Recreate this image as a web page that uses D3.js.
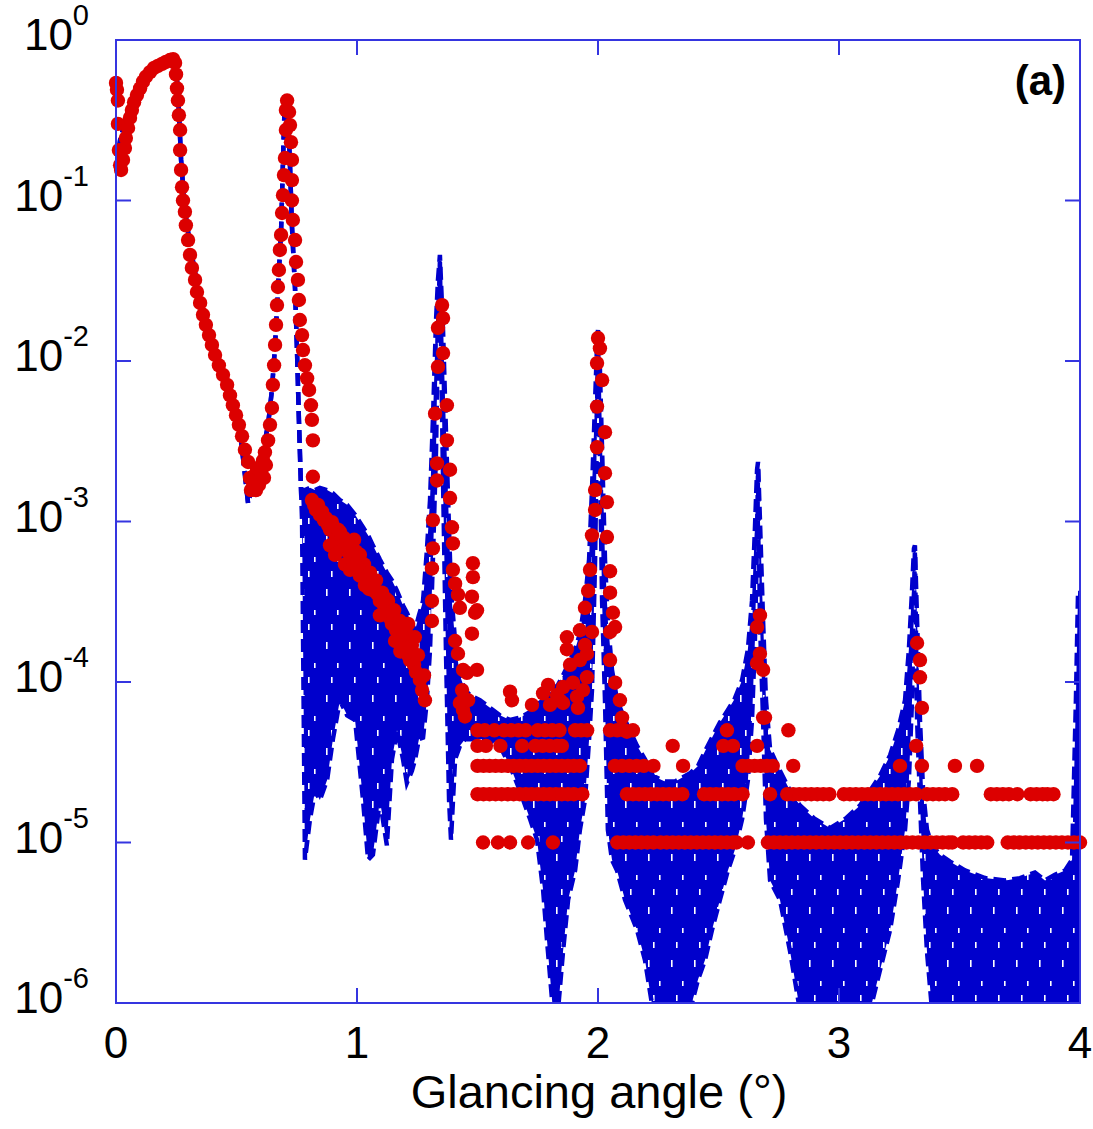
<!DOCTYPE html>
<html><head><meta charset="utf-8">
<script src="https://cdn.jsdelivr.net/npm/d3@7"></script>
<style>body{margin:0;background:#fff} svg text{font-family:"Liberation Sans",Arial,sans-serif;fill:#000}</style>
</head><body><svg id="c" width="1093" height="1129"></svg>
<script>
// ---------- DATA ----------
// simulated reflectivity: single-valued part [angle, R]
const simCurve = [[0,0.155],[0.017,0.238],[0.05,0.366],[0.1,0.524],[0.16,0.67],[0.224,0.75],[0.245,0.73],[0.257,0.49],[0.27,0.179],[0.286,0.087],[0.307,0.053],[0.349,0.024],[0.402,0.0135],[0.444,0.0084],[0.485,0.0049],[0.519,0.0032],[0.548,0.0013],[0.577,0.0019],[0.606,0.0026],[0.631,0.004],[0.647,0.0066],[0.66,0.0125],[0.672,0.028],[0.685,0.065],[0.693,0.179],[0.701,0.454],[0.714,0.34],[0.722,0.166],[0.73,0.07],[0.743,0.028],[0.751,0.0117],[0.759,0.0043],[0.768,0.00155]];
// simulated reflectivity, fast-fringe part: [angle, upper, lower]
const simBand = [[0.772,1.57e-3,1.02e-3],[0.784,1.57e-3,7.8e-6],[0.805,1.62e-3,1.4e-5],[0.826,1.57e-3,2.1e-5],[0.846,1.62e-3,1.84e-5],[0.876,1.57e-3,2.45e-5],[0.900,1.5e-3,4.4e-5],[0.929,1.36e-3,7.7e-5],[0.959,1.27e-3,6.2e-5],[0.992,1.1e-3,5.8e-5],[1.025,9.2e-4,1.84e-5],[1.046,8.2e-4,7.8e-6],[1.066,7.1e-4,8.4e-6],[1.095,5.8e-4,1.84e-5],[1.124,4.8e-4,9.6e-6],[1.145,4.3e-4,3.3e-5],[1.166,3.7e-4,5.0e-5],[1.191,3.0e-4,3.3e-5],[1.207,2.7e-4,2.35e-5],[1.228,2.3e-4,2.8e-5],[1.241,2.1e-4,3.3e-5],[1.257,2.6e-4,4.4e-5],[1.274,3.2e-4,4.5e-5],[1.290,6.6e-4,7.7e-5],[1.303,1.36e-3,1.6e-4],[1.315,4.3e-3,5.8e-4],[1.328,0.018,2.8e-3],[1.336,0.032,0.0156],[1.344,0.0458,0.0414],[1.357,0.0156,1.8e-3],[1.369,3.7e-3,1.6e-4],[1.382,8.9e-4,1.84e-5],[1.390,3.7e-4,1.04e-5],[1.407,1.8e-4,3.3e-5],[1.427,1.1e-4,4.0e-5],[1.448,8.9e-5,4.4e-5],[1.469,8.3e-5,4.4e-5],[1.510,7.7e-5,4.4e-5],[1.552,6.9e-5,4.4e-5],[1.593,6.2e-5,4.0e-5],[1.635,5.8e-5,3.0e-5],[1.676,6.0e-5,2.1e-5],[1.718,6.5e-5,1.4e-5],[1.747,7.2e-5,1.04e-5],[1.772,7.7e-5,5.1e-6],[1.788,8.3e-5,2.5e-6],[1.813,8.9e-5,9e-7],[1.834,9.6e-5,9e-7],[1.855,1.1e-4,2.1e-6],[1.876,1.28e-4,4.4e-6],[1.905,1.6e-4,6.7e-6],[1.925,2.0e-4,1.2e-5],[1.946,3.2e-4,1.84e-5],[1.963,5.8e-4,4.4e-5],[1.975,1.57e-3,8.9e-5],[1.988,5.7e-3,5.8e-4],[1.996,0.0126,4.3e-3],[2.000,0.0156,0.0145],[2.008,8.8e-3,2.4e-3],[2.017,2.8e-3,3.2e-4],[2.029,5.8e-4,7.7e-5],[2.041,2.4e-4,1.2e-5],[2.058,1.19e-4,7.8e-6],[2.079,7.7e-5,6.7e-6],[2.112,5.8e-5,4.4e-6],[2.162,4.0e-5,2.85e-6],[2.195,3.3e-5,1.85e-6],[2.228,2.6e-5,9e-7],[2.278,2.4e-5,9e-7],[2.320,2.4e-5,9e-7],[2.382,2.7e-5,9e-7],[2.415,3.0e-5,1.4e-6],[2.444,3.7e-5,1.85e-6],[2.473,4.5e-5,2.85e-6],[2.506,5.6e-5,4.4e-6],[2.539,6.7e-5,6.7e-6],[2.568,7.9e-5,9.0e-6],[2.598,1.03e-4,1.4e-5],[2.622,1.6e-4,2.45e-5],[2.639,3.2e-4,5.8e-5],[2.651,8.9e-4,1.8e-4],[2.660,2.1e-3,7.7e-4],[2.664,2.35e-3,2.1e-3],[2.672,1.02e-3,2.4e-4],[2.685,2.4e-4,5.8e-5],[2.697,7.7e-5,1.4e-5],[2.714,3.8e-5,5.8e-6],[2.755,2.8e-5,4.4e-6],[2.797,2.1e-5,2.1e-6],[2.838,1.7e-5,9e-7],[2.900,1.4e-5,9e-7],[2.963,1.23e-5,9e-7],[3.025,1.4e-5,9e-7],[3.087,1.7e-5,9e-7],[3.129,2.1e-5,9e-7],[3.170,2.6e-5,1.6e-6],[3.212,3.5e-5,2.85e-6],[3.245,5.0e-5,5.8e-6],[3.274,7.7e-5,1.2e-5],[3.290,1.6e-4,2.45e-5],[3.303,3.7e-4,7.7e-5],[3.311,6.8e-4,3.2e-4],[3.315,7.1e-4,6.6e-4],[3.324,2.4e-4,5.8e-5],[3.336,5.8e-5,1.84e-5],[3.349,2.1e-5,5.8e-6],[3.365,1.2e-5,2.1e-6],[3.386,9.6e-6,9e-7],[3.419,8.4e-6,9e-7],[3.461,7.6e-6,9e-7],[3.523,6.7e-6,9e-7],[3.606,6.0e-6,9e-7],[3.689,5.8e-6,9e-7],[3.751,6.0e-6,9e-7],[3.813,6.5e-6,9e-7],[3.855,5.8e-6,9e-7],[3.896,6.3e-6,9e-7],[3.938,6.7e-6,9e-7],[3.967,7.8e-6,9e-7],[3.983,7.7e-5,9e-7],[3.992,3.7e-4,9e-7],[4.000,3.7e-4,9e-7]];

// measured reflectivity [angle, R]
const expMain = [[0,0.54],[0.004,0.49],[0.008,0.42],[0.008,0.30],[0.012,0.206],[0.017,0.166],[0.021,0.155],[0.029,0.179],[0.037,0.212],[0.041,0.245],[0.05,0.283],[0.058,0.327],[0.066,0.366],[0.075,0.41],[0.087,0.454],[0.1,0.50],[0.112,0.55],[0.124,0.59],[0.141,0.63],[0.158,0.67],[0.174,0.69],[0.191,0.71],[0.207,0.73],[0.224,0.75],[0.237,0.76],[0.245,0.72],[0.249,0.61],[0.253,0.50],[0.257,0.42],[0.261,0.34],[0.266,0.275],[0.266,0.206],[0.27,0.155],[0.274,0.121],[0.278,0.1],[0.286,0.085],[0.29,0.070],[0.299,0.0567],[0.307,0.0458],[0.315,0.038],[0.328,0.032],[0.336,0.0269],[0.349,0.023],[0.361,0.0194],[0.373,0.0168],[0.386,0.0145],[0.398,0.0126],[0.411,0.0109],[0.427,0.0094],[0.444,0.0082],[0.461,0.0071],[0.473,0.0061],[0.485,0.0053],[0.498,0.0046],[0.51,0.0040],[0.523,0.0034],[0.535,0.0028],[0.548,0.00235],[0.556,0.00187],[0.56,0.00157],[0.568,0.00176],[0.577,0.00195],[0.581,0.00157],[0.585,0.00215],[0.593,0.00169],[0.602,0.00203],[0.61,0.0024],[0.614,0.00187],[0.618,0.0027],[0.622,0.00225],[0.631,0.0032],[0.639,0.0040],[0.647,0.0051],[0.651,0.0071],[0.656,0.0094],[0.66,0.0126],[0.664,0.0168],[0.668,0.0223],[0.672,0.0289],[0.676,0.0369],[0.68,0.0492],[0.685,0.061],[0.689,0.0836],[0.693,0.108],[0.697,0.144],[0.701,0.184],[0.705,0.275],[0.705,0.366],[0.71,0.42],[0.718,0.356],[0.722,0.295],[0.726,0.231],[0.73,0.179],[0.73,0.134],[0.73,0.1],[0.734,0.0756],[0.743,0.0567],[0.747,0.0414],[0.755,0.032],[0.759,0.024],[0.763,0.018],[0.772,0.0145],[0.776,0.0117],[0.784,0.0094],[0.793,0.0078],[0.801,0.0066],[0.809,0.0053],[0.813,0.0043],[0.817,0.0032],[0.817,0.0019]];
const expSlope = [[0.813,1.36e-3],[0.822,1.27e-3],[0.830,1.18e-3],[0.838,1.27e-3],[0.846,1.1e-3],[0.855,1.15e-3],[0.863,1.02e-3],[0.871,1.05e-3],[0.880,9.5e-4],[0.888,8.9e-4],[0.896,9.9e-4],[0.905,9.1e-4],[0.913,8.1e-4],[0.921,8.9e-4],[0.929,7.7e-4],[0.938,7.1e-4],[0.946,7.9e-4],[0.954,6.6e-4],[0.963,7.1e-4],[0.971,6.2e-4],[0.979,6.8e-4],[0.988,7.7e-4],[0.996,6.5e-4],[1.004,5.6e-4],[1.012,6.2e-4],[1.021,5.0e-4],[1.029,5.4e-4],[1.037,4.6e-4],[1.046,4.3e-4],[1.054,4.8e-4],[1.062,4.0e-4],[1.071,3.7e-4],[1.079,4.3e-4],[1.087,3.5e-4],[1.095,3.2e-4],[1.104,3.6e-4],[1.112,3.0e-4],[1.120,2.7e-4],[1.129,3.2e-4],[1.137,2.5e-4],[1.145,2.3e-4],[1.154,2.8e-4],[1.162,2.1e-4],[1.170,2.0e-4],[1.178,2.4e-4],[1.187,1.8e-4],[1.195,1.63e-4],[1.203,2.05e-4],[1.212,1.47e-4],[1.220,1.37e-4],[1.228,1.7e-4],[1.237,1.28e-4],[1.245,1.15e-4],[1.253,1.47e-4],[1.261,1.03e-4],[1.270,8.9e-5],[1.278,1.1e-4],[1.282,7.7e-5],[0.888,7.1e-4],[0.909,6.2e-4],[0.950,5.4e-4],[0.971,5.0e-4],[1.012,4.6e-4],[1.033,4.0e-4],[1.095,2.6e-4],[1.158,1.8e-4],[1.212,2.3e-4],[0.93,8.6e-4],[0.975,7.4e-4],[1.0,5.2e-4],[1.05,3.8e-4],[1.12,3.3e-4],[1.18,1.55e-4],[1.24,1.9e-4]];
const expPeaks = [[1.353,0.0223],[1.357,0.0185],[1.336,0.0161],[1.357,0.0112],[1.336,0.0092],[1.373,0.0053],[1.324,0.0047],[1.373,0.0032],[1.332,0.0023],[1.386,0.0021],[1.332,0.0018],[1.386,0.0014],[1.315,1.02e-3],[1.394,9.2e-4],[1.398,7.3e-4],[1.315,6.8e-4],[1.311,5.1e-4],[1.398,5.0e-4],[1.407,4.1e-4],[1.311,3.2e-4],[1.419,3.5e-4],[1.427,2.9e-4],[1.311,2.4e-4],[1.407,1.8e-4],[1.419,1.5e-4],[1.440,1.19e-4],[1.456,1.14e-4],[1.498,1.19e-4],[1.436,8.9e-5],[1.427,7.4e-5],[1.440,6.7e-5],[1.461,7.7e-5],[1.448,6.1e-5],[1.481,5.5e-4],[1.481,4.5e-4],[1.477,3.4e-4],[1.498,2.8e-4],[1.477,2.0e-4],[1.490,2.7e-4],
[1.635,8.7e-5],[1.643,7.7e-5],[1.726,7.2e-5],[1.772,8.5e-5],[1.793,9.6e-5],[1.801,7.2e-5],[1.830,8.3e-5],[1.842,7.7e-5],[1.855,7.4e-5],[1.871,1.9e-4],[1.871,1.6e-4],[1.884,1.28e-4],[1.855,9.3e-5],[1.896,9.9e-5],[1.913,8.1e-5],[1.917,6.9e-5],[1.938,8.9e-5],[1.954,1.07e-4],[1.954,1.5e-4],[1.975,2.05e-4],[1.925,1.37e-4],[1.946,1.7e-4],
[2.0,0.0139],[2.008,0.012],[1.996,0.0097],[2.017,0.0076],[1.996,0.0052],[2.029,0.0036],[1.996,0.0029],[2.029,0.0020],[1.988,0.00157],[2.037,1.32e-3],[1.988,1.18e-3],[1.975,8.2e-4],[2.037,8.0e-4],[1.967,5.0e-4],[2.050,4.9e-4],[1.959,3.7e-4],[2.050,3.6e-4],[1.946,2.9e-4],[2.062,2.7e-4],[1.925,2.1e-4],[2.071,2.2e-4],[2.050,2.05e-4],[2.050,1.37e-4],[2.071,9.9e-5],[2.091,7.7e-5],[2.100,6.0e-5],[2.120,4.9e-5],
[2.672,2.6e-4],[2.660,2.2e-4],[2.672,1.5e-4],[2.660,1.31e-4],[2.685,1.19e-4],[2.685,6.0e-5],[2.693,6.0e-5],
[3.324,1.75e-4],[3.336,1.37e-4],[3.336,1.07e-4],[3.344,6.9e-5]];
// low-count floor levels (quantised counts) and the angles at which they occur
const floorLevels = [1e-5, 2e-5, 3e-5, 4e-5, 5e-5];
const floor1X = [1.523,1.585,1.635,1.71,1.813,2.08,2.105,2.13,2.155,2.18,2.205,2.23,2.26,2.285,2.31,2.335,2.36,2.385,2.41,2.435,2.46,2.485,2.51,2.535,2.56,2.575,2.622,2.705,2.73,2.755,2.78,2.805,2.83,2.855,2.88,2.905,2.93,2.955,2.98,3.005,3.03,3.055,3.08,3.105,3.13,3.155,3.18,3.205,3.23,3.255,3.28,3.305,3.33,3.355,3.38,3.405,3.43,3.455,3.47,3.515,3.54,3.565,3.59,3.615,3.70,3.725,3.75,3.775,3.80,3.825,3.85,3.875,3.90,3.925,3.95,3.975,4.0];
const floor2X = [1.50,1.525,1.55,1.575,1.60,1.625,1.65,1.675,1.70,1.725,1.75,1.775,1.80,1.825,1.85,1.875,1.90,1.935,2.12,2.145,2.17,2.195,2.22,2.245,2.27,2.295,2.32,2.35,2.44,2.465,2.49,2.515,2.54,2.565,2.60,2.714,2.785,2.81,2.835,2.86,2.885,2.91,2.935,2.96,3.02,3.045,3.07,3.095,3.12,3.145,3.17,3.195,3.22,3.245,3.27,3.295,3.32,3.365,3.39,3.415,3.44,3.47,3.63,3.655,3.68,3.705,3.74,3.795,3.82,3.845,3.865,3.89];
const floor3X = [1.50,1.525,1.55,1.575,1.60,1.625,1.65,1.675,1.70,1.725,1.75,1.775,1.80,1.825,1.85,1.875,1.90,1.925,2.07,2.10,2.13,2.16,2.19,2.23,2.353,2.60,2.625,2.65,2.675,2.70,2.725,2.81,3.253,3.344,3.481,3.573];
const floor4X = [1.50,1.535,1.595,1.685,1.74,1.77,1.80,1.83,1.85,2.31,2.52,2.56,2.66,3.32];
const floor5X = [1.50,1.53,1.57,1.61,1.64,1.67,1.70,1.75,1.78,1.81,1.84,1.905,1.93,1.955,2.05,2.08,2.11,2.145,2.535,2.79];
const floorXs = [floor1X, floor2X, floor3X, floor4X, floor5X];

const xTicks = [0, 1, 2, 3, 4];
const yTickExps = [0, -1, -2, -3, -4, -5, -6];
const xLabel = "Glancing angle (°)";
const panelLabel = "(a)";

// ---------- DRAW ----------
const svg = d3.select("#c");
const L = 116, R = 1080, T = 40, B = 1003;
const x = d3.scaleLinear().domain([0, 4]).range([L, R]);
const y = d3.scaleLog().domain([1e-6, 1]).range([B, T]);
const frameCol = "#3535e0", simCol = "#0000cc", expCol = "#dc0000";

const defs = svg.append("defs");
defs.append("clipPath").attr("id", "pc")
  .append("rect").attr("x", L).attr("y", T).attr("width", R - L).attr("height", B - T);
// fringe texture: solid blue with sparse white dash gaps (line style of the dashed simulation)
const pat = defs.append("pattern").attr("id", "tex").attr("patternUnits", "userSpaceOnUse")
  .attr("width", 23).attr("height", 53);
pat.append("rect").attr("width", 23).attr("height", 53).attr("fill", simCol);
[[4, 6, 7], [15, 27, 5], [9, 41, 6]].forEach(s =>
  pat.append("rect").attr("x", s[0]).attr("y", s[1]).attr("width", 1.6).attr("height", s[2]).attr("fill", "#fff"));

const sim = simCurve.map(d => ({x: d[0], hi: d[1], lo: d[1]}))
  .concat(simBand.map(d => ({x: d[0], hi: d[1], lo: d[2]})));

const gSim = svg.append("g").attr("clip-path", "url(#pc)");
gSim.append("path").datum(sim)
  .attr("d", d3.area().x(d => x(d.x)).y0(d => y(d.lo)).y1(d => y(d.hi)))
  .attr("fill", "url(#tex)");
["hi", "lo"].forEach(k => {
  gSim.append("path").datum(sim)
    .attr("d", d3.line().x(d => x(d.x)).y(d => y(d[k])))
    .attr("fill", "none").attr("stroke", simCol).attr("stroke-width", 4.5)
    .attr("stroke-dasharray", "13,6");
});

// measured points
const exp = expMain.concat(expSlope, expPeaks);
floorXs.forEach((xs, i) => xs.forEach(v => exp.push([v, floorLevels[i]])));
svg.append("g").selectAll("circle").data(exp).join("circle")
  .attr("cx", d => x(d[0])).attr("cy", d => y(d[1])).attr("r", 7.2).attr("fill", expCol);

// frame
svg.append("rect").attr("x", L).attr("y", T).attr("width", R - L).attr("height", B - T)
  .attr("fill", "none").attr("stroke", frameCol).attr("stroke-width", 2);

// ticks
const tl = 15;
const gT = svg.append("g").attr("stroke", frameCol).attr("stroke-width", 2);
yTickExps.forEach(e => {
  const yy = y(Math.pow(10, e));
  gT.append("line").attr("x1", L).attr("x2", L + tl).attr("y1", yy).attr("y2", yy);
  gT.append("line").attr("x1", R).attr("x2", R - tl).attr("y1", yy).attr("y2", yy);
});
xTicks.forEach(t => {
  const xx = x(t);
  gT.append("line").attr("x1", xx).attr("x2", xx).attr("y1", B).attr("y2", B - tl);
  gT.append("line").attr("x1", xx).attr("x2", xx).attr("y1", T).attr("y2", T + tl);
});

// y tick labels
yTickExps.forEach(e => {
  const t = svg.append("text").attr("x", 89).attr("y", y(Math.pow(10, e)) + 10)
    .attr("text-anchor", "end").attr("font-size", 44);
  t.append("tspan").text("10");
  t.append("tspan").attr("font-size", 29).attr("dy", -25).text(e === 0 ? "0" : "-" + (-e));
});
// x tick labels
xTicks.forEach(t => {
  svg.append("text").attr("x", x(t)).attr("y", 1058).attr("text-anchor", "middle")
    .attr("font-size", 44).text(t);
});
svg.append("text").attr("x", 599).attr("y", 1108).attr("text-anchor", "middle")
  .attr("font-size", 47).text(xLabel);
svg.append("text").attr("x", 1066).attr("y", 95).attr("text-anchor", "end")
  .attr("font-size", 42).attr("font-weight", "bold").text(panelLabel);
</script>
</body></html>
